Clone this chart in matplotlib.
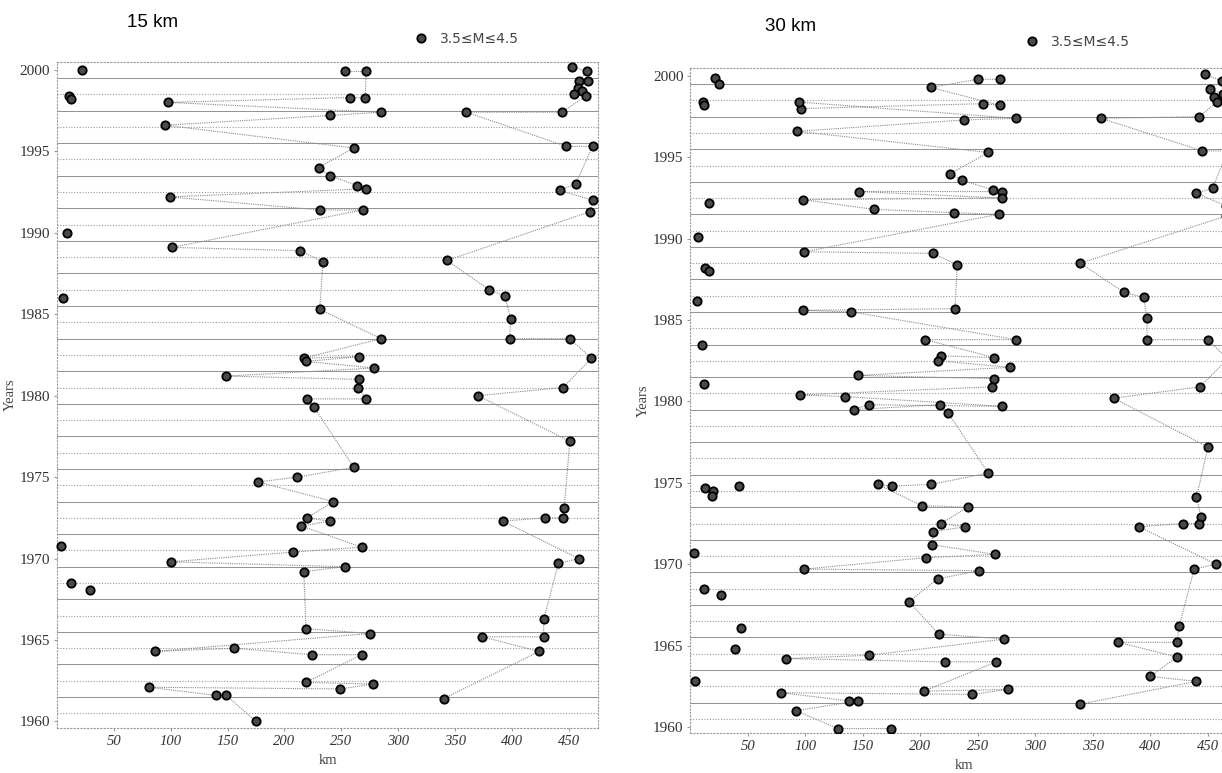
import matplotlib
matplotlib.use('Agg')
import matplotlib.pyplot as plt
from matplotlib.lines import Line2D

# ---- data: distance (km) / year ----
# 15 km panel
km15_west = [253, 272, 271, 258, 98, 285, 240, 95, 261, 230, 240, 264, 272, 99,
             231, 269, 101, 214, 234, 231, 285, 217, 266, 219, 279, 149, 266, 265,
             272, 220, 226, 261, 211, 177, 243, 220, 240, 215, 268, 208, 100, 253,
             217, 219, 275, 86, 156, 224, 268, 219, 278, 249, 81, 140, 149, 175]
yr15_west = [1999.9, 1999.9, 1998.3, 1998.3, 1998.0, 1997.4, 1997.2, 1996.6, 1995.2,
             1994.0, 1993.5, 1992.9, 1992.7, 1992.2, 1991.4, 1991.4, 1989.1, 1988.9,
             1988.2, 1985.3, 1983.5, 1982.3, 1982.4, 1982.1, 1981.7, 1981.2, 1981.0,
             1980.5, 1979.8, 1979.8, 1979.3, 1975.6, 1975.0, 1974.7, 1973.5, 1972.5,
             1972.3, 1972.0, 1970.7, 1970.4, 1969.8, 1969.5, 1969.2, 1965.7, 1965.4,
             1964.3, 1964.5, 1964.1, 1964.1, 1962.4, 1962.3, 1962.0, 1962.1, 1961.6,
             1961.6, 1960.0]
km15_east = [453, 466, 459, 467, 458, 462, 455, 465, 444, 360, 448, 471, 456, 442,
             471, 469, 343, 380, 394, 399, 398, 451, 470, 445, 370, 451, 446, 445,
             429, 392, 459, 441, 428, 428, 374, 424, 340]
yr15_east = [2000.2, 1999.9, 1999.3, 1999.3, 1998.9, 1998.7, 1998.5, 1998.4, 1997.4,
             1997.4, 1995.3, 1995.3, 1993.0, 1992.6, 1992.0, 1991.3, 1988.3, 1986.5,
             1986.1, 1984.7, 1983.5, 1983.5, 1982.3, 1980.5, 1980.0, 1977.2, 1973.1,
             1972.5, 1972.5, 1972.3, 1970.0, 1969.7, 1966.3, 1965.2, 1965.2, 1964.3,
             1961.4]
km15_single = [22, 11, 12, 9, 5, 4, 12, 29]
yr15_single = [2000.0, 1998.4, 1998.2, 1990.0, 1986.0, 1970.8, 1968.5, 1968.1]

# 30 km panel
km30_west = [269, 250, 209, 269, 254, 96, 94, 283, 238, 93, 259, 226, 236, 263, 271,
             147, 271, 98, 160, 229, 268, 99, 211, 232, 230, 98, 140, 283, 204, 264,
             218, 215, 278, 146, 264, 262, 95, 134, 271, 155, 142, 217, 224, 259, 209,
             175, 163, 201, 241, 218, 239, 211, 210, 265, 205, 99, 251, 215, 190, 216,
             273, 155, 83, 221, 266, 203, 276, 245, 79, 138, 146, 92, 128, 174]
yr30_west = [1999.8, 1999.8, 1999.3, 1998.2, 1998.3, 1998.0, 1998.4, 1997.4, 1997.3,
             1996.6, 1995.3, 1994.0, 1993.6, 1993.0, 1992.9, 1992.9, 1992.5, 1992.4,
             1991.8, 1991.6, 1991.5, 1989.2, 1989.1, 1988.4, 1985.7, 1985.6, 1985.5,
             1983.8, 1983.8, 1982.7, 1982.8, 1982.5, 1982.1, 1981.6, 1981.4, 1980.9,
             1980.4, 1980.3, 1979.7, 1979.8, 1979.5, 1979.8, 1979.3, 1975.6, 1974.9,
             1974.8, 1974.9, 1973.6, 1973.5, 1972.5, 1972.3, 1972.0, 1971.2, 1970.6,
             1970.4, 1969.7, 1969.6, 1969.1, 1967.7, 1965.7, 1965.4, 1964.4, 1964.2,
             1964.0, 1964.0, 1962.2, 1962.3, 1962.0, 1962.1, 1961.6, 1961.6, 1961.0,
             1959.9, 1959.9]
km30_east = [447, 462, 452, 463, 455, 465, 458, 442, 357, 445, 467, 454, 440, 466,
             466, 339, 377, 394, 397, 397, 450, 467, 443, 368, 450, 440, 444, 442,
             428, 390, 457, 438, 425, 423, 372, 423, 400, 440, 339]
yr30_east = [2000.1, 1999.7, 1999.2, 1998.9, 1998.7, 1998.5, 1998.4, 1997.5, 1997.4,
             1995.4, 1995.4, 1993.1, 1992.8, 1992.0, 1991.4, 1988.5, 1986.7, 1986.4,
             1985.1, 1983.8, 1983.8, 1982.6, 1980.9, 1980.2, 1977.2, 1974.1, 1972.9,
             1972.5, 1972.5, 1972.3, 1970.0, 1969.7, 1966.2, 1965.2, 1965.2, 1964.3,
             1963.1, 1962.8, 1961.4]
km30_single = [21, 25, 11, 12, 16, 7, 13, 16, 6, 10, 12, 13, 20, 19, 42, 3, 12, 27,
               44, 39, 4]
yr30_single = [1999.9, 1999.5, 1998.4, 1998.2, 1992.2, 1990.1, 1988.2, 1988.0, 1986.2,
               1983.5, 1981.1, 1974.7, 1974.5, 1974.2, 1974.8, 1970.7, 1968.5, 1968.1,
               1966.1, 1964.8, 1962.8]

year_ticks = [1960, 1965, 1970, 1975, 1980, 1985, 1990, 1995, 2000]
km_ticks = [50, 100, 150, 200, 250, 300, 350, 400, 450]
legend_label = '3.5\u2264M\u22644.5'

serif = ['Liberation Serif', 'DejaVu Serif']
sans = ['Liberation Sans', 'DejaVu Sans']

fig = plt.figure(figsize=(12.22, 7.73), dpi=100)

panels = [
    ('15 km', [0.0466, 0.0582, 0.443, 0.862], km15_west, yr15_west, km15_east, yr15_east,
     km15_single, yr15_single, (0.104, 0.9715), (0.333, 0.9495)),
    ('30 km', [0.565, 0.0512, 0.448, 0.861], km30_west, yr30_west, km30_east, yr30_east,
     km30_single, yr30_single, (0.626, 0.966), (0.833, 0.9457)),
]

mk = dict(marker='o', markersize=6, markerfacecolor='#4a4a4a',
          markeredgecolor='#000000', markeredgewidth=1.3)

for title, pos, kw, yw, ke, ye, ks, ys, tpos, lpos in panels:
    ax = fig.add_axes(pos)
    ax.set_xlim(0, 476)
    ax.set_ylim(1959.6, 2000.5)

    # horizontal year separators, alternating solid / dotted
    for i, y in enumerate(range(1960, 2001)):
        if i % 2 == 0:
            ax.axhline(y - 0.5, color='#808080', lw=0.6, zorder=1)
        else:
            ax.axhline(y - 0.5, color='#9a9a9a', lw=0.8, ls=(0, (1, 1.5)), zorder=1)

    ax.plot(kw, yw, color='#8a8a8a', lw=0.8, ls=(0, (1, 1)), zorder=2)
    ax.plot(ke, ye, color='#8a8a8a', lw=0.8, ls=(0, (1, 1)), zorder=2)
    ax.plot(kw, yw, ls='none', zorder=3, **mk)
    ax.plot(ke, ye, ls='none', zorder=3, **mk)
    ax.plot(ks, ys, ls='none', zorder=3, clip_on=False, **mk)

    ax.set_yticks(year_ticks)
    ax.set_yticklabels([str(y) for y in year_ticks], family=serif, fontsize=11,
                       color='#333333')
    ax.set_xticks(km_ticks)
    ax.set_xticklabels([str(k) for k in km_ticks], family=serif, fontsize=10.5,
                       style='italic', color='#333333')
    ax.tick_params(length=2, color='#999999', pad=3)
    for s in ax.spines.values():
        s.set_linestyle((0, (1, 2)))
        s.set_color('#999999')
        s.set_linewidth(0.8)
    ax.set_xlabel('km', family=serif, fontsize=10.5, color='#444444', labelpad=4)
    ax.set_ylabel('Years', family=serif, fontsize=10.5, color='#444444', labelpad=2)

    fig.text(tpos[0], tpos[1], title, family=sans, fontsize=13.5, va='center')
    fig.legend(handles=[Line2D([], [], ls='none', **mk)], labels=[legend_label],
               loc='center left', bbox_to_anchor=lpos, frameon=False,
               prop={'family': 'DejaVu Sans', 'size': 10}, handletextpad=0.9,
               borderpad=0, handlelength=1.0, labelcolor='#444444')

fig.savefig('out.png', dpi=100)
